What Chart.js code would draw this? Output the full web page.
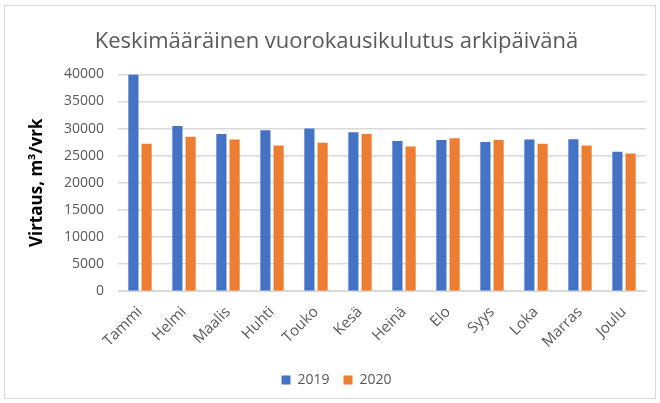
<!DOCTYPE html>
<html>
<head>
<meta charset="utf-8">
<script src="https://cdn.jsdelivr.net/npm/chart.js@4/dist/chart.umd.min.js"></script>
<style>
  body { margin: 0; background: #fff; }
  #wrap { position: absolute; left: 0; top: 0; width: 660px; height: 403px; }
  #frame { position: absolute; left: 4px; top: 5px; width: 650px; height: 392px; border: 1px solid #d9d9d9; pointer-events: none; }
</style>
</head>
<body>
<div id="frame"></div>
<div id="wrap"><canvas id="chart" width="660" height="403"></canvas></div>
<script>
// monthly average weekday consumption, m3/day
var months = ['Tammi', 'Helmi', 'Maalis', 'Huhti', 'Touko', 'Kesä', 'Heinä', 'Elo', 'Syys', 'Loka', 'Marras', 'Joulu'];
var y2019 = [40000, 30500, 29000, 29700, 30000, 29350, 27700, 27900, 27550, 28000, 28050, 25750];
var y2020 = [27200, 28500, 28000, 26900, 27400, 29000, 26700, 28200, 27900, 27200, 26900, 25400];
var yTicks = [0, 5000, 10000, 15000, 20000, 25000, 30000, 35000, 40000];

var grey = '#595959',
    blue = '#4472C4',
    orange = '#ED7D31';

Chart.defaults.font.family = '"Open Sans", sans-serif';
Chart.defaults.color = grey;

new Chart(document.getElementById('chart'), {
    type: 'bar',
    data: {
        labels: months,
        datasets: [
            { label: '2019', data: y2019, backgroundColor: blue },
            { label: '2020', data: y2020, backgroundColor: orange }
        ]
    },
    options: {
        responsive: false,
        animation: false,
        layout: { padding: { left: 27, right: 14, top: 0, bottom: 6 } },
        datasets: { bar: { categoryPercentage: 0.6, barPercentage: 0.77 } },
        plugins: {
            title: {
                display: true,
                text: 'Keskimääräinen vuorokausikulutus arkipäivänä',
                font: { size: 22, weight: 'normal' },
                color: grey,
                padding: { top: 29, bottom: 19 }
            },
            legend: {
                position: 'bottom',
                labels: { boxWidth: 9, boxHeight: 9, font: { size: 14 }, color: grey, padding: 14 }
            },
            tooltip: { enabled: false }
        },
        scales: {
            x: {
                grid: { display: false },
                border: { color: '#d9d9d9' },
                afterFit: function (axis) { axis.height += 4; },
                ticks: { minRotation: 45, maxRotation: 45, font: { size: 15 }, color: grey, padding: 4 }
            },
            y: {
                min: 0,
                max: 40000,
                afterBuildTicks: function (axis) {
                    axis.ticks = yTicks.map(function (v) { return { value: v }; });
                },
                afterFit: function (axis) { axis.width = 91; },
                grid: { color: '#d9d9d9', drawTicks: false, lineWidth: 1.5 },
                border: { display: false },
                ticks: {
                    font: { size: 14 },
                    color: grey,
                    padding: 14,
                    callback: function (v) { return String(v); }
                },
                title: {
                    display: true,
                    text: 'Virtaus, m³/vrk',
                    font: { size: 17, weight: 'bold' },
                    color: '#000',
                    padding: 0
                }
            }
        }
    }
});
</script>
</body>
</html>
